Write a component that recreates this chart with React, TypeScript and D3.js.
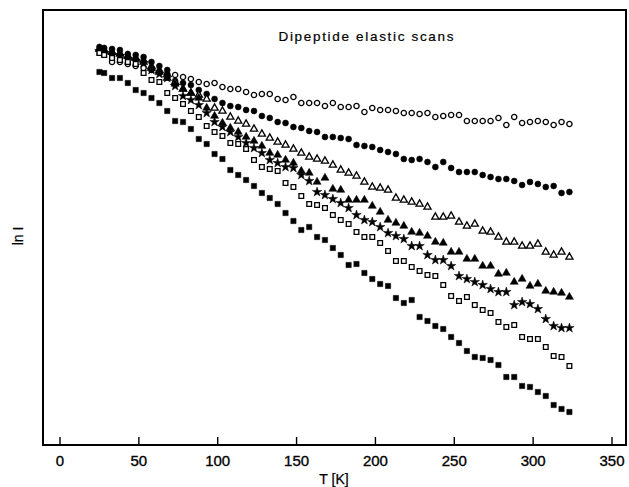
import React from "react";
import * as d3 from "d3";

// Temperature grid (K)
const temps = [25, 28, 33, 38, 43, 48, 53, 58, 63, 68, 73, 78, 83, 88, 93, 98, 103, 108, 113, 118, 123, 128, 133, 138, 143, 148, 153, 158, 163, 168, 173, 178, 183, 188, 193, 198, 203, 208, 213, 218, 223, 228, 233, 238, 243, 248, 253, 258, 263, 268, 273, 278, 283, 288, 293, 298, 303, 308, 313, 318, 323];

// ln I (arbitrary units)
const openCircles = [3.94, 3.92, 3.83, 3.83, 3.81, 3.79, 3.77, 3.75, 3.73, 3.71, 3.70, 3.68, 3.66, 3.63, 3.61, 3.62, 3.58, 3.56, 3.56, 3.53, 3.50, 3.51, 3.51, 3.46, 3.45, 3.48, 3.42, 3.42, 3.42, 3.39, 3.42, 3.38, 3.38, 3.39, 3.33, 3.37, 3.35, 3.35, 3.34, 3.32, 3.32, 3.31, 3.32, 3.28, 3.29, 3.30, 3.30, 3.24, 3.24, 3.24, 3.24, 3.27, 3.20, 3.28, 3.22, 3.23, 3.24, 3.23, 3.20, 3.23, 3.21];
const filledCircles = [3.98, 3.97, 3.96, 3.95, 3.91, 3.90, 3.88, 3.83, 3.79, 3.75, 3.64, 3.62, 3.60, 3.55, 3.51, 3.46, 3.42, 3.39, 3.38, 3.35, 3.34, 3.29, 3.27, 3.23, 3.22, 3.18, 3.17, 3.14, 3.13, 3.08, 3.08, 3.07, 3.06, 3.00, 2.99, 2.98, 2.95, 2.93, 2.91, 2.86, 2.85, 2.86, 2.83, 2.78, 2.83, 2.77, 2.73, 2.73, 2.73, 2.70, 2.68, 2.66, 2.66, 2.64, 2.60, 2.63, 2.61, 2.58, 2.59, 2.52, 2.53];
const openTriangles = [3.96, 3.95, 3.93, 3.91, 3.89, 3.87, 3.83, 3.77, 3.73, 3.67, 3.63, 3.56, 3.52, 3.50, 3.46, 3.37, 3.34, 3.28, 3.24, 3.21, 3.16, 3.11, 3.07, 3.03, 3.00, 2.96, 2.92, 2.88, 2.86, 2.84, 2.80, 2.75, 2.72, 2.69, 2.63, 2.58, 2.57, 2.55, 2.47, 2.45, 2.43, 2.41, 2.38, 2.28, 2.28, 2.29, 2.23, 2.19, 2.21, 2.14, 2.13, 2.08, 2.03, 2.03, 1.99, 1.99, 2.01, 1.93, 1.90, 1.93, 1.88];
const filledTriangles = [3.96, 3.95, 3.93, 3.92, 3.89, 3.87, 3.85, 3.79, 3.75, 3.71, 3.61, 3.56, 3.52, 3.47, 3.37, 3.29, 3.22, 3.17, 3.13, 3.08, 3.04, 2.99, 2.92, 2.90, 2.85, 2.82, 2.74, 2.72, 2.63, 2.67, 2.56, 2.55, 2.45, 2.45, 2.45, 2.39, 2.33, 2.25, 2.22, 2.19, 2.13, 2.12, 2.09, 2.03, 2.02, 1.93, 1.93, 1.86, 1.86, 1.79, 1.79, 1.71, 1.72, 1.63, 1.66, 1.59, 1.61, 1.54, 1.53, 1.52, 1.48];
const stars = [3.94, 3.92, 3.90, 3.89, 3.86, 3.84, 3.82, 3.75, 3.71, 3.67, 3.59, 3.49, 3.45, 3.40, 3.32, 3.23, 3.18, 3.13, 3.08, 3.02, 2.97, 2.92, 2.85, 2.82, 2.78, 2.77, 2.70, 2.64, 2.53, 2.50, 2.46, 2.42, 2.37, 2.30, 2.25, 2.23, 2.18, 2.12, 2.09, 2.06, 1.99, 1.99, 1.90, 1.85, 1.85, 1.79, 1.69, 1.66, 1.63, 1.60, 1.56, 1.53, 1.53, 1.40, 1.43, 1.41, 1.36, 1.26, 1.19, 1.17, 1.17];
const openSquares = [3.92, 3.90, 3.87, 3.85, 3.83, 3.81, 3.72, 3.65, 3.63, 3.52, 3.47, 3.41, 3.34, 3.28, 3.19, 3.13, 3.09, 3.02, 3.01, 2.96, 2.85, 2.78, 2.76, 2.74, 2.62, 2.58, 2.49, 2.41, 2.40, 2.37, 2.30, 2.25, 2.21, 2.13, 2.08, 2.08, 2.02, 1.94, 1.84, 1.84, 1.78, 1.74, 1.70, 1.69, 1.60, 1.49, 1.44, 1.48, 1.40, 1.35, 1.32, 1.23, 1.18, 1.20, 1.08, 1.06, 1.06, 0.98, 0.89, 0.88, 0.79];
const filledSquares = [3.73, 3.72, 3.67, 3.67, 3.62, 3.55, 3.52, 3.47, 3.42, 3.34, 3.24, 3.23, 3.16, 3.06, 3.01, 2.91, 2.86, 2.75, 2.70, 2.65, 2.59, 2.52, 2.47, 2.41, 2.32, 2.24, 2.15, 2.18, 2.08, 2.05, 1.97, 1.90, 1.80, 1.81, 1.72, 1.66, 1.61, 1.59, 1.47, 1.42, 1.45, 1.28, 1.24, 1.19, 1.16, 1.08, 1.02, 0.94, 0.88, 0.87, 0.85, 0.80, 0.68, 0.68, 0.59, 0.58, 0.53, 0.49, 0.40, 0.36, 0.33];

const xTicks = [0, 50, 100, 150, 200, 250, 300, 350];
const titleText = "Dipeptide elastic scans";
const xLabel = "T [K]";
const yLabel = "ln I";

type Ser = { data: number[]; type: d3.SymbolType; size: number; filled: boolean };

export default function App() {
  const W = 629, H = 487;
  const left = 43, top = 10, right = 626, bottom = 445;
  const x = d3.scaleLinear().domain([0, 350]).range([60, 612]);
  const y = d3.scaleLinear().domain([0, 4.35]).range([bottom, top]);

  const series: Ser[] = [
    { data: openCircles, type: d3.symbolCircle, size: 22, filled: false },
    { data: filledCircles, type: d3.symbolCircle, size: 28, filled: true },
    { data: openTriangles, type: d3.symbolTriangle, size: 22, filled: false },
    { data: filledTriangles, type: d3.symbolTriangle, size: 28, filled: true },
    { data: stars, type: d3.symbolStar, size: 28, filled: true },
    { data: openSquares, type: d3.symbolSquare, size: 22, filled: false },
    { data: filledSquares, type: d3.symbolSquare, size: 28, filled: true },
  ];

  const font = "'Liberation Sans', Arial, sans-serif";

  return (
    <svg width={W} height={H} style={{ position: "absolute", left: 0, top: 0, background: "#fff" }} fontFamily={font}>
      <rect x={0} y={0} width={W} height={H} fill="#fff" />
      <rect x={left} y={top} width={right - left} height={bottom - top} fill="none" stroke="#000" strokeWidth={2} />
      {xTicks.map((t) => (
        <g key={t}>
          <line x1={x(t)} x2={x(t)} y1={bottom} y2={bottom - 8} stroke="#000" strokeWidth={1.4} />
          <text x={x(t)} y={466} textAnchor="middle" fontSize={15} fill="#000" stroke="#000" strokeWidth={0.35}>{t}</text>
        </g>
      ))}
      <text x={366} y={41} textAnchor="middle" fontSize={13.5} textLength={175} lengthAdjust="spacing" fill="#000" stroke="#000" strokeWidth={0.2}>{titleText}</text>
      <text x={334} y={484} textAnchor="middle" fontSize={14} fill="#000" stroke="#000" strokeWidth={0.25}>{xLabel}</text>
      <text transform={`translate(23,236) rotate(-90)`} textAnchor="middle" fontSize={14} fill="#000" stroke="#000" strokeWidth={0.25}>{yLabel}</text>
      {series.map((s, si) => {
        const path = d3.symbol().type(s.type).size(s.size)() as string;
        return (
          <g key={si}>
            {s.data.map((v, i) => (
              <path
                key={i}
                d={path}
                transform={`translate(${x(temps[i])},${y(v)})`}
                fill={s.filled ? "#000" : "#fff"}
                stroke="#000"
                strokeWidth={s.filled ? 0.5 : 1.3}
              />
            ))}
          </g>
        );
      })}
    </svg>
  );
}
